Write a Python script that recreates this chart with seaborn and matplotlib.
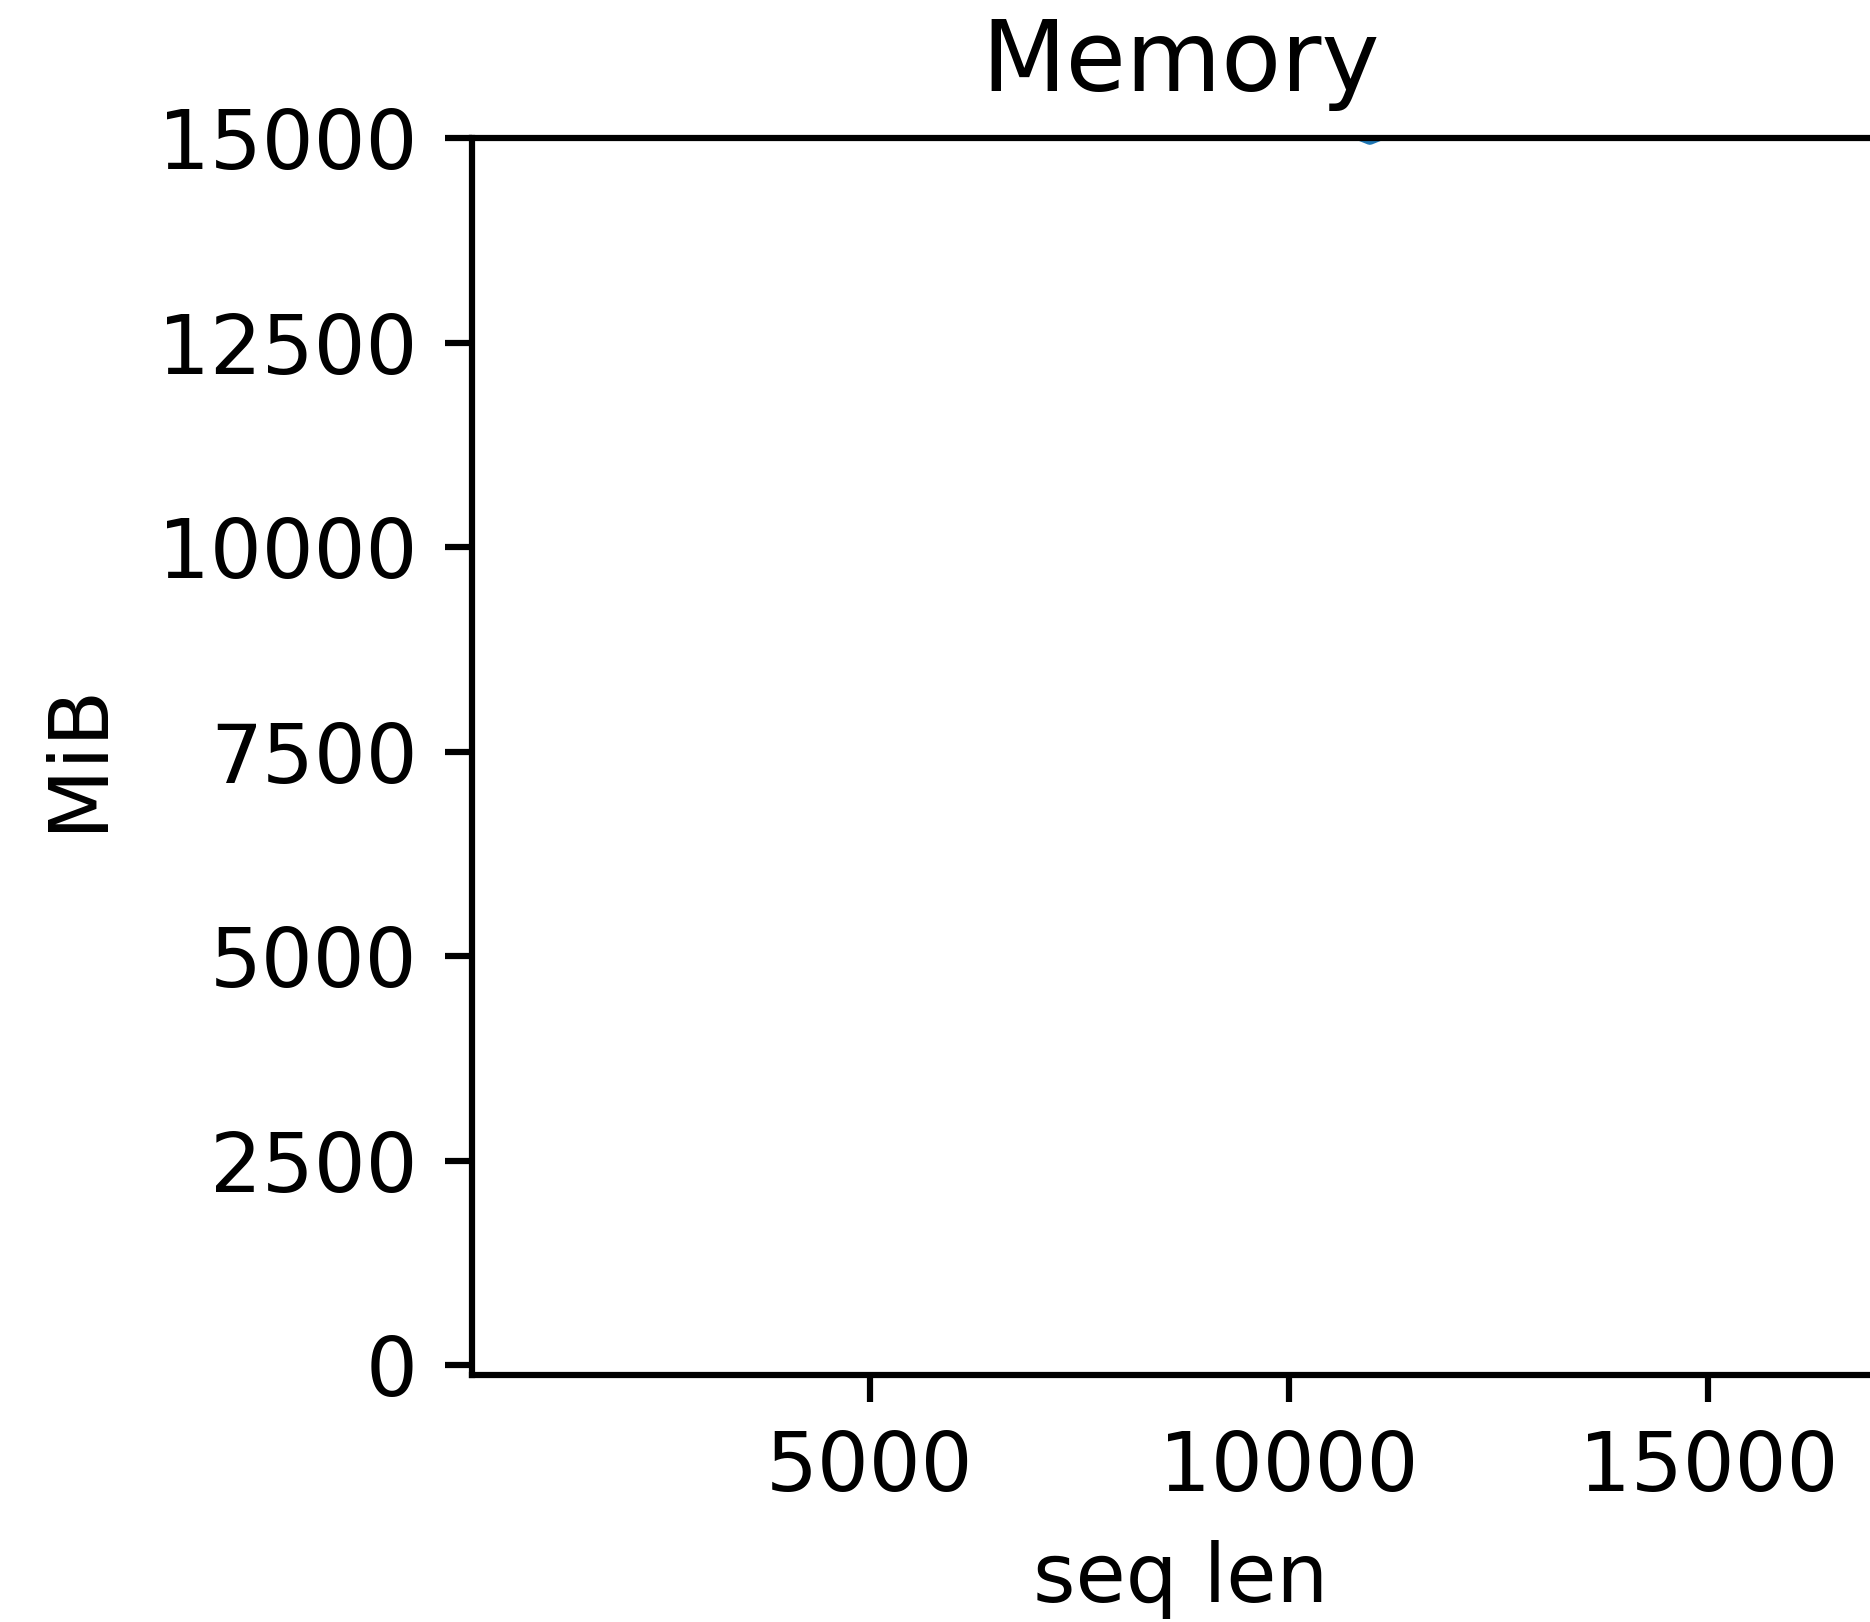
#!/usr/bin/env python3

import pandas as pd
import seaborn as sns
from matplotlib import pyplot as plt

# only the dip near 11k reaches into the visible range; the rest sits above 15000
seq_len = [1024, 4096, 8192, 10964, 16384]
mem_mib = [18000, 17000, 16120, 14988, 17210]

DPI = 560

if __name__ == '__main__':
    plt.rcParams['font.size'] = 10.5

    df = pd.DataFrame({'seq len': seq_len, 'MiB': mem_mib})

    f = plt.figure(figsize=(1870 / DPI, 1622 / DPI), dpi=DPI)
    ax = f.add_axes([0.2524, 0.1523, 0.7576, 0.7626])

    sns.lineplot(data=df, x='seq len', y='MiB', ax=ax)

    ax.set_xlim(256, 17152)
    ax.set_ylim(-117, 15000)
    ax.set_xticks([5000, 10000, 15000])
    ax.set_yticks([0, 2500, 5000, 7500, 10000, 12500, 15000])

    ax.set_title('Memory', fontsize=12.6)
    ax.set_xlabel('seq len')
    ax.set_ylabel('MiB', labelpad=5.2)

    f.savefig('out.png', dpi=DPI)
